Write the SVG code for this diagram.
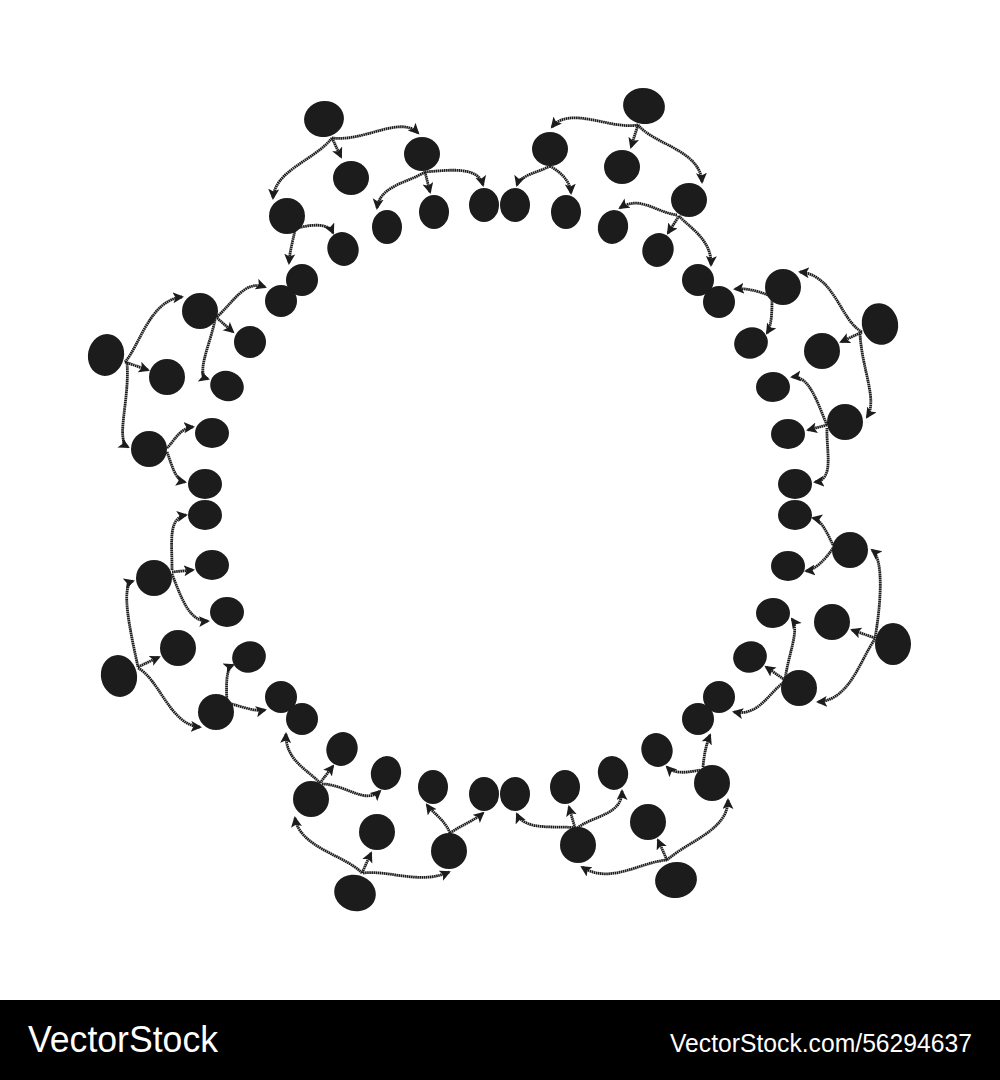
<svg xmlns="http://www.w3.org/2000/svg" width="1000" height="1080" viewBox="0 0 1000 1080">
<style>
.n{fill:#1c1c1c}
.c{fill:none;stroke:#1c1c1c;stroke-width:2.8;stroke-dasharray:1.6 0.5;marker-end:url(#ah)}
.t{fill:#fff;font-family:"Liberation Sans",Arial,sans-serif}
</style>
<defs>
<marker id="ah" markerUnits="userSpaceOnUse" markerWidth="12" markerHeight="12" refX="9" refY="5.5" orient="auto">
<path d="M0,0 L11,5.5 L0,11 L2.5,5.5 z" fill="#1c1c1c"/>
</marker>
</defs>
<rect width="1000" height="1080" fill="#fff"/>
<g id="connectors">
<path class="c" d="M332,138 L341,157"/>
<path class="c" d="M332,138 C315,160 275,170 273,198"/>
<path class="c" d="M332,138 C365,142 400,115 418,133"/>
<path class="c" d="M425,172 C410,182 380,185 377,208"/>
<path class="c" d="M425,172 L430,192"/>
<path class="c" d="M425,172 C450,170 478,166 483,185"/>
<path class="c" d="M297,228 C310,225 328,222 333,233"/>
<path class="c" d="M295,230 C292,245 290,250 289,263"/>
<path class="c" d="M638,125 C610,130 570,105 552,127"/>
<path class="c" d="M638,125 L631,147"/>
<path class="c" d="M638,125 C655,145 700,150 702,182"/>
<path class="c" d="M550,166 C540,172 520,175 517,185"/>
<path class="c" d="M550,166 C560,172 570,180 571,193"/>
<path class="c" d="M677,215 C655,212 640,195 620,208"/>
<path class="c" d="M679,216 L668,233"/>
<path class="c" d="M679,216 C690,228 712,240 711,265"/>
<path class="c" d="M125,362 C140,345 150,300 182,297"/>
<path class="c" d="M125,362 L148,370"/>
<path class="c" d="M127,362 C130,400 115,440 128,447"/>
<path class="c" d="M217,317 C235,300 245,280 265,287"/>
<path class="c" d="M217,318 L233,332"/>
<path class="c" d="M215,320 C210,345 195,375 208,379"/>
<path class="c" d="M167,448 C175,440 180,428 193,427"/>
<path class="c" d="M167,452 C172,465 175,480 185,482"/>
<path class="c" d="M138,667 C130,630 120,585 133,581"/>
<path class="c" d="M138,667 L159,657"/>
<path class="c" d="M138,668 C160,680 170,725 200,727"/>
<path class="c" d="M172,570 C172,540 168,518 186,515"/>
<path class="c" d="M172,572 L193,570"/>
<path class="c" d="M172,574 C182,600 190,622 208,621"/>
<path class="c" d="M227,702 C226,685 226,668 233,665"/>
<path class="c" d="M228,703 C240,706 255,712 265,710"/>
<path class="c" d="M362,873 C345,855 300,848 295,818"/>
<path class="c" d="M362,873 L371,853"/>
<path class="c" d="M363,873 C390,870 420,885 449,872"/>
<path class="c" d="M320,783 C308,770 285,760 286,734"/>
<path class="c" d="M320,783 L333,766"/>
<path class="c" d="M322,784 C345,784 365,805 380,791"/>
<path class="c" d="M450,833 C445,820 432,812 427,805"/>
<path class="c" d="M450,833 C462,825 475,820 483,813"/>
<path class="c" d="M667,860 C640,862 610,885 582,867"/>
<path class="c" d="M667,860 L658,840"/>
<path class="c" d="M667,860 C690,840 728,830 728,800"/>
<path class="c" d="M575,828 C560,825 525,832 517,814"/>
<path class="c" d="M575,828 L569,807"/>
<path class="c" d="M577,828 C595,815 622,815 622,791"/>
<path class="c" d="M700,770 C690,772 675,775 667,767"/>
<path class="c" d="M703,767 C704,755 706,745 710,735"/>
<path class="c" d="M875,638 C880,610 885,560 872,550"/>
<path class="c" d="M875,638 L852,630"/>
<path class="c" d="M875,639 C860,660 850,700 818,702"/>
<path class="c" d="M833,545 C828,535 822,520 813,518"/>
<path class="c" d="M833,548 C825,560 815,570 806,571"/>
<path class="c" d="M785,680 C788,655 800,630 792,619"/>
<path class="c" d="M785,680 L766,667"/>
<path class="c" d="M785,682 C770,690 760,717 734,712"/>
<path class="c" d="M862,332 C840,320 835,275 800,272"/>
<path class="c" d="M862,332 L841,342"/>
<path class="c" d="M860,334 C862,370 878,400 867,417"/>
<path class="c" d="M768,295 C755,290 745,288 735,289"/>
<path class="c" d="M772,297 C772,310 772,325 767,333"/>
<path class="c" d="M827,425 C818,405 810,375 792,377"/>
<path class="c" d="M827,425 L808,430"/>
<path class="c" d="M827,428 C826,450 835,480 815,482"/>
</g>
<g id="n1"><ellipse class="n" cx="324" cy="119" rx="20" ry="18" transform="rotate(-10 324 119)"/></g>
<g id="n2"><ellipse class="n" cx="351" cy="178" rx="18" ry="17"/></g>
<g id="n3"><ellipse class="n" cx="287" cy="216" rx="18" ry="18"/></g>
<g id="n4"><ellipse class="n" cx="422" cy="154" rx="18" ry="17"/></g>
<g id="n5"><ellipse class="n" cx="387" cy="227" rx="15" ry="17"/></g>
<g id="n6"><ellipse class="n" cx="434" cy="212" rx="15" ry="17"/></g>
<g id="n7"><ellipse class="n" cx="484" cy="205" rx="15" ry="17"/></g>
<g id="n8"><ellipse class="n" cx="515" cy="205" rx="15" ry="17"/></g>
<g id="n9"><ellipse class="n" cx="343" cy="249" rx="15.5" ry="17" transform="rotate(-20 343 249)"/></g>
<g id="n10"><ellipse class="n" cx="302" cy="280" rx="16" ry="16"/></g>
<g id="n11"><ellipse class="n" cx="281" cy="301" rx="16" ry="16"/></g>
<g id="n12"><ellipse class="n" cx="644" cy="106" rx="21" ry="18" transform="rotate(10 644 106)"/></g>
<g id="n13"><ellipse class="n" cx="550" cy="149" rx="18" ry="17"/></g>
<g id="n14"><ellipse class="n" cx="566" cy="212" rx="15" ry="17"/></g>
<g id="n15"><ellipse class="n" cx="622" cy="167" rx="18" ry="17"/></g>
<g id="n16"><ellipse class="n" cx="689" cy="200" rx="18" ry="17"/></g>
<g id="n17"><ellipse class="n" cx="613" cy="227" rx="15" ry="17" transform="rotate(15 613 227)"/></g>
<g id="n18"><ellipse class="n" cx="658" cy="250" rx="15.5" ry="17" transform="rotate(20 658 250)"/></g>
<g id="n19"><ellipse class="n" cx="698" cy="280" rx="16" ry="16"/></g>
<g id="n20"><ellipse class="n" cx="719" cy="302" rx="16" ry="16"/></g>
<g id="n21"><ellipse class="n" cx="783" cy="287" rx="18" ry="18"/></g>
<g id="n22"><ellipse class="n" cx="751" cy="343" rx="17" ry="15.5" transform="rotate(-20 751 343)"/></g>
<g id="n23"><ellipse class="n" cx="880" cy="324" rx="18" ry="21" transform="rotate(-15 880 324)"/></g>
<g id="n24"><ellipse class="n" cx="822" cy="351" rx="18" ry="18"/></g>
<g id="n25"><ellipse class="n" cx="845" cy="422" rx="18" ry="18"/></g>
<g id="n26"><ellipse class="n" cx="773" cy="387" rx="17" ry="15"/></g>
<g id="n27"><ellipse class="n" cx="788" cy="434" rx="17" ry="15"/></g>
<g id="n28"><ellipse class="n" cx="795" cy="484" rx="17" ry="15"/></g>
<g id="n29"><ellipse class="n" cx="795" cy="515" rx="17" ry="15"/></g>
<g id="n30"><ellipse class="n" cx="850" cy="550" rx="18" ry="18"/></g>
<g id="n31"><ellipse class="n" cx="788" cy="566" rx="17" ry="15"/></g>
<g id="n32"><ellipse class="n" cx="893" cy="644" rx="18" ry="21"/></g>
<g id="n33"><ellipse class="n" cx="832" cy="622" rx="18" ry="18"/></g>
<g id="n34"><ellipse class="n" cx="799" cy="688" rx="18" ry="18"/></g>
<g id="n35"><ellipse class="n" cx="773" cy="613" rx="17" ry="15"/></g>
<g id="n36"><ellipse class="n" cx="750" cy="657" rx="17" ry="15.5" transform="rotate(-20 750 657)"/></g>
<g id="n37"><ellipse class="n" cx="719" cy="697" rx="16" ry="16"/></g>
<g id="n38"><ellipse class="n" cx="698" cy="719" rx="16" ry="16"/></g>
<g id="n39"><ellipse class="n" cx="712" cy="783" rx="18" ry="18"/></g>
<g id="n40"><ellipse class="n" cx="657" cy="750" rx="15.5" ry="17" transform="rotate(-20 657 750)"/></g>
<g id="n41"><ellipse class="n" cx="676" cy="880" rx="21" ry="18" transform="rotate(-10 676 880)"/></g>
<g id="n42"><ellipse class="n" cx="648" cy="822" rx="18" ry="18"/></g>
<g id="n43"><ellipse class="n" cx="578" cy="845" rx="18" ry="18"/></g>
<g id="n44"><ellipse class="n" cx="613" cy="773" rx="15" ry="17" transform="rotate(-15 613 773)"/></g>
<g id="n45"><ellipse class="n" cx="565" cy="787" rx="15" ry="17"/></g>
<g id="n46"><ellipse class="n" cx="515" cy="794" rx="15" ry="17"/></g>
<g id="n47"><ellipse class="n" cx="484" cy="794" rx="15" ry="17"/></g>
<g id="n48"><ellipse class="n" cx="433" cy="787" rx="15" ry="17"/></g>
<g id="n49"><ellipse class="n" cx="449" cy="851" rx="18" ry="18"/></g>
<g id="n50"><ellipse class="n" cx="355" cy="893" rx="21" ry="18" transform="rotate(15 355 893)"/></g>
<g id="n51"><ellipse class="n" cx="377" cy="832" rx="18" ry="18"/></g>
<g id="n52"><ellipse class="n" cx="311" cy="799" rx="18" ry="18"/></g>
<g id="n53"><ellipse class="n" cx="386" cy="773" rx="15" ry="17" transform="rotate(15 386 773)"/></g>
<g id="n54"><ellipse class="n" cx="342" cy="749" rx="15.5" ry="17" transform="rotate(20 342 749)"/></g>
<g id="n55"><ellipse class="n" cx="302" cy="719" rx="16" ry="16"/></g>
<g id="n56"><ellipse class="n" cx="281" cy="697" rx="16" ry="16"/></g>
<g id="n57"><ellipse class="n" cx="216" cy="712" rx="18" ry="18"/></g>
<g id="n58"><ellipse class="n" cx="249" cy="657" rx="17" ry="15.5" transform="rotate(-20 249 657)"/></g>
<g id="n59"><ellipse class="n" cx="119" cy="676" rx="18" ry="21" transform="rotate(-12 119 676)"/></g>
<g id="n60"><ellipse class="n" cx="178" cy="648" rx="18" ry="18"/></g>
<g id="n61"><ellipse class="n" cx="154" cy="578" rx="18" ry="18"/></g>
<g id="n62"><ellipse class="n" cx="227" cy="612" rx="17" ry="15"/></g>
<g id="n63"><ellipse class="n" cx="212" cy="565" rx="17" ry="15"/></g>
<g id="n64"><ellipse class="n" cx="205" cy="515" rx="17" ry="15"/></g>
<g id="n65"><ellipse class="n" cx="205" cy="484" rx="17" ry="15"/></g>
<g id="n66"><ellipse class="n" cx="149" cy="449" rx="18" ry="18"/></g>
<g id="n67"><ellipse class="n" cx="212" cy="433" rx="17" ry="15"/></g>
<g id="n68"><ellipse class="n" cx="106" cy="355" rx="18" ry="21" transform="rotate(12 106 355)"/></g>
<g id="n69"><ellipse class="n" cx="167" cy="377" rx="18" ry="18"/></g>
<g id="n70"><ellipse class="n" cx="200" cy="311" rx="18" ry="18"/></g>
<g id="n71"><ellipse class="n" cx="250" cy="342" rx="16" ry="16"/></g>
<g id="n72"><ellipse class="n" cx="227" cy="386" rx="17" ry="15" transform="rotate(20 227 386)"/></g>
<g id="footer">
<rect x="0" y="1000" width="1000" height="80" fill="#000"/>
<text class="t" x="28" y="1052" font-size="36" textLength="190" lengthAdjust="spacingAndGlyphs">VectorStock</text>
<text class="t" x="670" y="1052" font-size="25" textLength="302" lengthAdjust="spacingAndGlyphs">VectorStock.com/56294637</text>
</g>
</svg>
